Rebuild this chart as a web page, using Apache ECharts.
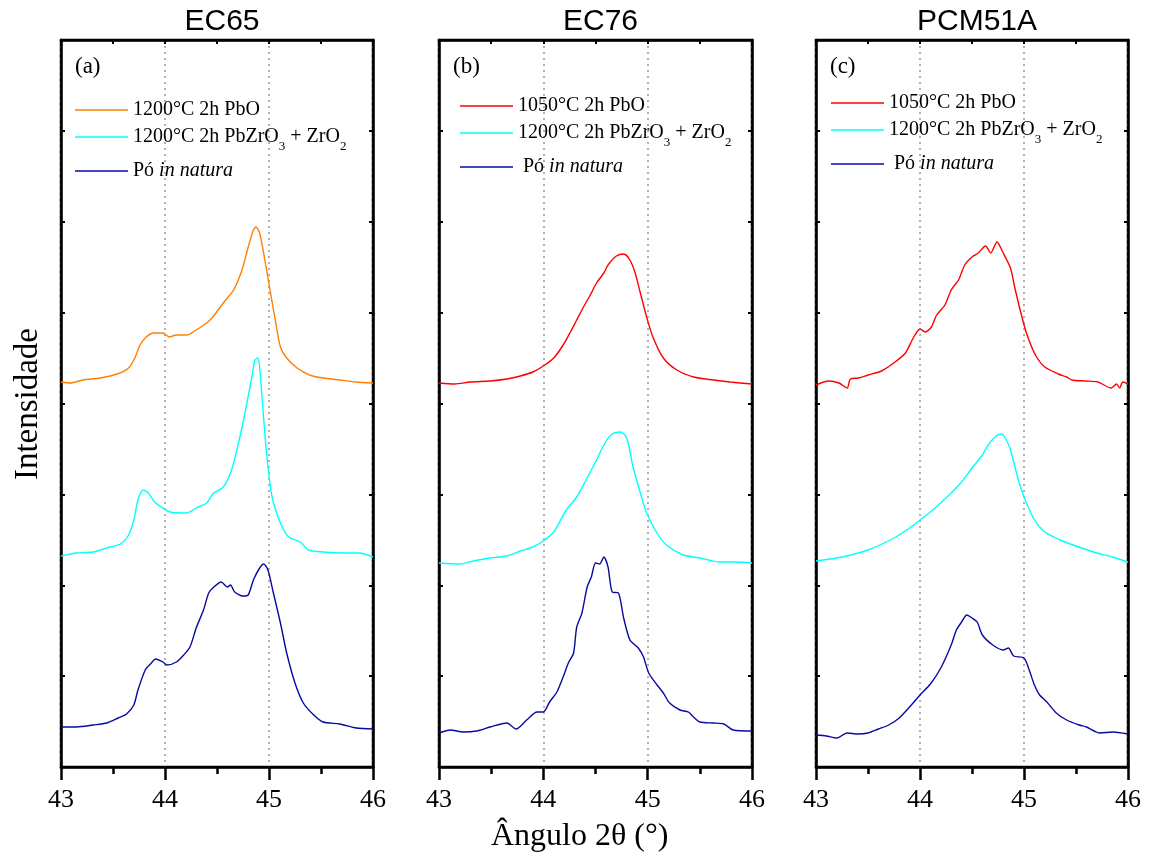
<!DOCTYPE html>
<html>
<head>
<meta charset="utf-8">
<script src="https://cdn.jsdelivr.net/npm/echarts@6/dist/echarts.min.js"></script>
<style>
html,body{margin:0;padding:0;background:#fff;}
#chart{width:1149px;height:861px;}
</style>
</head>
<body>
<div id="chart"></div>
<script>
// ---------- data (angle 2θ in degrees, intensity in arbitrary offset units) ----------
const panelTitles = ['EC65', 'EC76', 'PCM51A'];
const panelLetters = ['(a)', '(b)', '(c)'];
const xTicks = [43, 44, 45, 46];

// EC65
const ec65_pbo_x = [43.0,43.09,43.21,43.375,43.54,43.65,43.71,43.76,43.82,43.89,43.98,44.04,44.11,44.21,44.30,44.40,44.46,44.56,44.66,44.74,44.80,44.85,44.875,44.91,44.96,45.01,45.06,45.11,45.17,45.27,45.39,45.52,45.68,45.84,46.0];
const ec65_pbo_y = [385,384,387,389,393,399,409,422,430,434,434,430,432,432,437,444,450,464,477,497,520,537,540,534,507,477,447,420,409,399,392,389,387,385,384];
const ec65_pzo_x = [43.0,43.15,43.31,43.44,43.57,43.65,43.70,43.74,43.79,43.84,43.90,43.98,44.05,44.21,44.30,44.40,44.46,44.56,44.64,44.72,44.78,44.83,44.865,44.89,44.91,44.94,44.98,45.03,45.11,45.19,45.30,45.38,45.52,45.71,45.87,46.0];
const ec65_pzo_y = [211,214,215,219,223,232,247,267,277,274,265,259,255,254,259,264,273,280,297,330,360,387,407,409,400,360,310,270,244,230,225,217,215,214,214,210];
const ec65_raw_x = [43.0,43.15,43.31,43.44,43.55,43.63,43.70,43.74,43.81,43.86,43.91,43.98,44.02,44.11,44.18,44.24,44.30,44.37,44.42,44.46,44.54,44.60,44.63,44.67,44.75,44.80,44.85,44.91,44.95,44.99,45.04,45.11,45.17,45.25,45.33,45.43,45.52,45.68,45.84,46.0];
const ec65_raw_y = [40,40,42,44,49,53,62,77,97,103,108,105,102,105,112,120,139,157,174,179,185,180,182,175,171,172,187,199,203,197,175,144,114,84,64,52,45,43,39,38];

// EC76
const ec76_pbo_x = [43.0,43.15,43.30,43.49,43.65,43.78,43.90,44.00,44.10,44.19,44.26,44.32,44.38,44.45,44.51,44.58,44.62,44.70,44.77,44.83,44.88,44.93,44.99,45.05,45.15,45.28,45.44,45.63,45.79,46.0];
const ec76_pbo_y = [384,383,385,386,388,391,395,401,409,422,435,447,459,472,484,494,502,511,513,507,494,474,450,430,409,397,390,387,385,383];
const ec76_pzo_x = [43.0,43.20,43.33,43.49,43.65,43.78,43.90,44.00,44.10,44.22,44.32,44.42,44.51,44.59,44.66,44.74,44.80,44.86,44.93,44.99,45.09,45.18,45.34,45.50,45.69,45.85,46.0];
const ec76_pzo_y = [204,203,206,209,211,216,220,226,235,257,270,289,307,324,333,335,329,300,274,254,234,222,212,209,205,205,204];
const ec76_raw_x = [43.0,43.11,43.23,43.36,43.49,43.65,43.74,43.84,43.94,44.00,44.06,44.13,44.19,44.24,44.29,44.32,44.37,44.42,44.46,44.50,44.54,44.58,44.62,44.66,44.72,44.77,44.83,44.91,44.96,45.01,45.09,45.15,45.21,45.31,45.39,45.44,45.50,45.63,45.73,45.82,46.0];
const ec76_raw_y = [34,37,35,36,40,44,38,47,55,55,65,75,90,104,114,140,154,180,190,204,203,210,200,175,174,149,127,119,110,94,82,74,64,57,55,50,45,44,43,37,36];

// PCM51A
const pcm_pbo_x = [43.0,43.12,43.22,43.30,43.33,43.41,43.50,43.63,43.76,43.86,43.94,44.00,44.05,44.11,44.16,44.24,44.30,44.37,44.43,44.50,44.56,44.63,44.68,44.74,44.80,44.87,44.91,44.98,45.03,45.11,45.20,45.33,45.41,45.46,45.59,45.71,45.84,45.89,45.92,45.95,46.0];
const pcm_pbo_y = [382,386,384,379,388,389,392,396,405,414,430,438,435,440,452,462,477,487,502,510,514,521,514,525,514,499,480,450,432,412,400,393,390,387,386,385,379,383,379,385,383];
const pcm_pzo_x = [43.0,43.25,43.5,43.75,43.9,44.0,44.1,44.25,44.4,44.5,44.6,44.65,44.72,44.78,44.82,44.87,44.92,44.97,45.02,45.1,45.2,45.35,45.5,45.7,45.85,46.0];
const pcm_pzo_y = [206,210,217,229,239,247,255,269,285,299,312,321,330,333,329,317,297,279,265,247,235,227,221,214,210,205];
const pcm_raw_x = [43.0,43.1,43.2,43.3,43.4,43.5,43.6,43.7,43.8,43.9,44.0,44.1,44.2,44.3,44.35,44.4,44.45,44.5,44.55,44.6,44.7,44.8,44.85,44.9,45.0,45.05,45.1,45.15,45.22,45.31,45.41,45.53,45.6,45.73,45.85,46.0];
const pcm_raw_y = [32,31,29,34,33,34,38,42,49,60,72,83,99,122,137,145,152,149,145,132,122,117,119,111,109,97,82,72,65,54,47,42,40,34,35,33];

const nameA1 = '1200°C 2h PbO';
const nameB1 = '1050°C 2h PbO';
const name2 = '1200°C 2h PbZrO3 + ZrO2';
const name3 = 'Pó in natura';

const colOrange = '#FF8000';
const colRed = '#FF0000';
const colCyan = '#00FFFF';
const colNavy = '#0A0AA0';

const panels = [
  {curves: [[nameA1, colOrange, ec65_pbo_x, ec65_pbo_y], [name2, colCyan, ec65_pzo_x, ec65_pzo_y], [name3, colNavy, ec65_raw_x, ec65_raw_y]]},
  {curves: [[nameB1, colRed, ec76_pbo_x, ec76_pbo_y], [name2, colCyan, ec76_pzo_x, ec76_pzo_y], [name3, colNavy, ec76_raw_x, ec76_raw_y]]},
  {curves: [[nameB1, colRed, pcm_pbo_x, pcm_pbo_y], [name2, colCyan, pcm_pzo_x, pcm_pzo_y], [name3, colNavy, pcm_raw_x, pcm_raw_y]]}
];

// ---------- layout ----------
const gridsPos = [
  {left: 61, top: 40, width: 312, height: 727},
  {left: 439, top: 40, width: 313, height: 727},
  {left: 816, top: 40, width: 312, height: 727}
];
const YMAX = 727;
const serif = 'Liberation Serif, Times New Roman, serif';
const sans = 'Liberation Sans, Arial, sans-serif';

const grid = [], xAxis = [], yAxis = [], series = [], title = [], legend = [], graphic = [];
gridsPos.forEach((g, i) => {
  grid.push(Object.assign({show: true, borderColor: '#000', borderWidth: 2.5, backgroundColor: '#fff'}, g));
  title.push({
    text: panelTitles[i], left: g.left + g.width / 2, top: 2, textAlign: 'center',
    textStyle: {fontFamily: sans, fontSize: 30, fontWeight: 'normal', color: '#000'}
  });
  graphic.push({
    type: 'text', left: g.left + 14, top: 55,
    style: {text: panelLetters[i], font: '23px ' + serif, fill: '#000'}
  });
});
// bottom x axes
gridsPos.forEach((g, i) => {
  xAxis.push({
    type: 'value', gridIndex: i, min: 43, max: 46, interval: 1, position: 'bottom',
    axisLine: {show: true, onZero: false, lineStyle: {color: '#000', width: 2.5}},
    axisTick: {show: true, length: 13, lineStyle: {color: '#000', width: 2.5}},
    minorTick: {show: true, splitNumber: 2, length: 7, lineStyle: {color: '#000', width: 2.5}},
    axisLabel: {show: true, margin: 20, fontFamily: serif, fontSize: 26, color: '#000',
      formatter: v => (xTicks.indexOf(v) >= 0 ? String(v) : '')},
    splitLine: {show: true, lineStyle: {color: '#999', type: [2, 4], width: 1.5}}
  });
});
// top x axes
gridsPos.forEach((g, i) => {
  xAxis.push({
    type: 'value', gridIndex: i, min: 43, max: 46, interval: 1, position: 'top',
    axisLine: {show: true, onZero: false, lineStyle: {color: '#000', width: 2.5}},
    axisTick: {show: true, inside: true, length: 4, lineStyle: {color: '#000', width: 2}},
    minorTick: {show: true, splitNumber: 2, length: 4, lineStyle: {color: '#000', width: 2}},
    axisLabel: {show: false}, splitLine: {show: false}
  });
});
// left / right y axes
[ 'left', 'right' ].forEach(pos => {
  gridsPos.forEach((g, i) => {
    yAxis.push({
      type: 'value', gridIndex: i, min: 0, max: YMAX, interval: YMAX / 8, position: pos,
      axisLine: {show: true, onZero: false, lineStyle: {color: '#000', width: 2.5}},
      axisTick: {show: true, inside: true, length: 4, lineStyle: {color: '#000', width: 2}},
      axisLabel: {show: false}, splitLine: {show: false}
    });
  });
});

panels.forEach((p, i) => {
  p.curves.forEach(c => {
    const [name, color, xs, ys] = c;
    series.push({
      type: 'line', name: name, xAxisIndex: i, yAxisIndex: i,
      data: xs.map((x, k) => [x, ys[k]]),
      symbol: 'none', smooth: 0.25, color: color,
      lineStyle: {color: color, width: 1.4},
      clip: true, animation: false
    });
  });
});

function makeFormatter(lead) {
  return function (n) {
    if (n.indexOf('PbZrO') >= 0) return '1200°C 2h PbZrO{sub|3} + ZrO{sub|2}';
    if (n.indexOf('natura') >= 0) return '{p3|' + lead + 'Pó }{it3|in natura}';
    return n;
  };
}
const legendRich = {
  sub: {fontFamily: serif, fontSize: 13, color: '#000', lineHeight: 32, verticalAlign: 'bottom'},
  p3: {fontFamily: serif, fontSize: 20, color: '#000', lineHeight: 34},
  it3: {fontFamily: serif, fontSize: 20, color: '#000', fontStyle: 'italic', lineHeight: 34}
};
const legendPos = [
  {left: 70, top: 95, data: [nameA1, name2, name3], lead: ''},
  {left: 455, top: 91, data: [nameB1, name2, name3], lead: ' '},
  {left: 826, top: 88, data: [nameB1, name2, name3], lead: ' '}
];
legendPos.forEach(l => {
  legend.push({
    left: l.left, top: l.top, orient: 'vertical', data: l.data,
    icon: 'rect', itemWidth: 53, itemHeight: 1.5, itemGap: 1,
    formatter: makeFormatter(l.lead),
    textStyle: {fontFamily: serif, fontSize: 20, color: '#000', lineHeight: 20, rich: legendRich},
    selectedMode: true
  });
});

graphic.push({
  type: 'text', left: 491, top: 821,
  style: {text: 'Ângulo 2θ (°)', font: '32px ' + serif, fill: '#000'}
});
graphic.push({
  type: 'text', left: 12, top: 328, rotation: Math.PI / 2,
  style: {text: 'Intensidade', font: '33px ' + serif, fill: '#000'}
});

const chart = echarts.init(document.getElementById('chart'), null, {renderer: 'canvas'});
chart.setOption({
  backgroundColor: '#fff',
  animation: false,
  title, grid, xAxis, yAxis, series, legend, graphic
});
</script>
</body>
</html>
